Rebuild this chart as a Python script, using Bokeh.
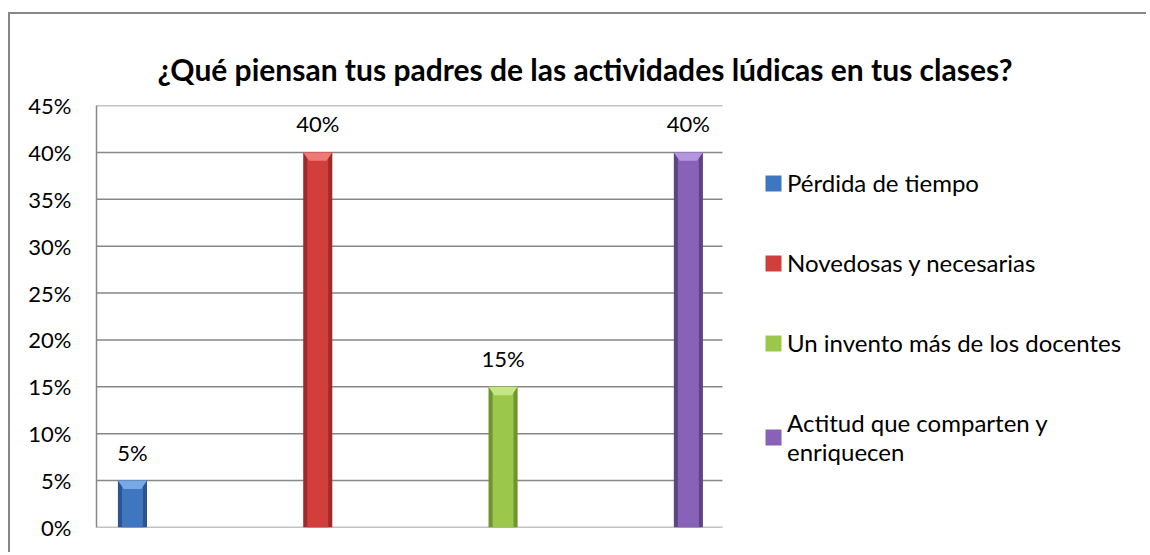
from bokeh.plotting import figure
from bokeh.models import (Range1d, NumeralTickFormatter, FixedTicker, Legend, LegendItem,
                          ColumnDataSource)
from bokeh.core.properties import value
from bokeh.embed import file_html
from bokeh.resources import INLINE

title = "¿Qué piensan tus padres de las actividades lúdicas en tus clases?"
categories = ["Pérdida de tiempo", "Novedosas y necesarias", "Un invento más de los docentes",
              "Actitud que comparten y\nenriquecen"]
values = [0.05, 0.40, 0.15, 0.40]
labels = ["5%", "40%", "15%", "40%"]
y_ticks = [0, 0.05, 0.10, 0.15, 0.20, 0.25, 0.30, 0.35, 0.40, 0.45]

main_colors = ["#3f76c0", "#d13f3d", "#9bc84a", "#8762b6"]
edge_colors = ["#2b558f", "#9c2b29", "#6f9430", "#5f4387"]
top_colors = ["#78a8e6", "#ee7a78", "#c4e585", "#b396de"]

FONT = "Lato"
GRID = "#878787"

# plot-area x extent (bars region), the rest of the frame holds the legend
X0, X1, XR = -0.194, 3.184, 5.483

p = figure(width=1138, height=540, output_backend="svg", toolbar_location=None,
           x_range=Range1d(X0, XR), y_range=Range1d(0, 0.45),
           min_border_left=86, min_border_top=91, min_border_bottom=27, min_border_right=0)
p.margin = (12, 0, 0, 8)
p.styles = {"border-top": "2px solid #878787", "border-left": "2px solid #878787"}
p.outline_line_color = None
p.background_fill_color = "white"
p.border_fill_color = "white"

p.title.text = title
p.title.align = "left"
p.title.offset = 61
p.title.vertical_align = "middle"
p.title.standoff = 35
p.title.text_font = FONT
p.title.text_font_style = "bold"
p.title.text_font_size = "30px"
p.title.text_color = "#000000"

# gridlines limited to the plot area
p.segment(x0=[X0] * len(y_ticks), x1=[X1] * len(y_ticks), y0=y_ticks, y1=y_ticks,
          line_color=GRID, line_width=1.5)

xs = list(range(len(values)))
W = 0.157
src = ColumnDataSource(dict(x=xs, top=values, main=main_colors, edge=edge_colors,
                            topc=top_colors, lab=labels))

p.vbar(x="x", top="top", bottom=0, width=W, fill_color="edge", line_color=None, source=src)
r = p.vbar(x="x", top="top", bottom=0, width=W * 0.72, fill_color="main", line_color=None,
           source=src)
# top bevel (chevron highlight)
d = 0.009
px, py = [], []
for x, v in zip(xs, values):
    px.append([x - W / 2, x + W / 2, x + W * 0.3, x - W * 0.3])
    py.append([v, v, v - d, v - d])
p.patches(px, py, fill_color=top_colors, line_color=None)

p.text(x="x", y="top", text="lab", source=src, text_align="center", text_baseline="bottom",
       y_offset=-15, text_font=value(FONT), text_font_size="22px", text_color="#000000")

# axes
p.xaxis.visible = False
p.yaxis.ticker = FixedTicker(ticks=y_ticks)
p.yaxis.formatter = NumeralTickFormatter(format="0%")
p.yaxis.axis_line_color = GRID
p.yaxis.axis_line_width = 1.5
p.yaxis.major_tick_line_color = None
p.yaxis.minor_tick_line_color = None
p.yaxis.major_label_standoff = 19
p.yaxis.major_label_text_font = FONT
p.yaxis.major_label_text_font_size = "22px"
p.yaxis.major_label_text_color = "#000000"
p.grid.visible = False

# legend (one item per bar)
items = []
for i, c in enumerate(categories):
    items.append(LegendItem(label=c, renderers=[r], index=i))
legend = Legend(items=items, location=(667, 61), orientation="vertical",
                glyph_width=20, glyph_height=20, label_standoff=4, spacing=51,
                padding=0, margin=0, border_line_color=None, background_fill_alpha=0,
                label_text_font=FONT, label_text_font_size="24px", label_text_color="#000000",
                label_text_line_height=1.3)
p.add_layout(legend, "center")

open("out.html", "w").write(file_html(p, INLINE))
